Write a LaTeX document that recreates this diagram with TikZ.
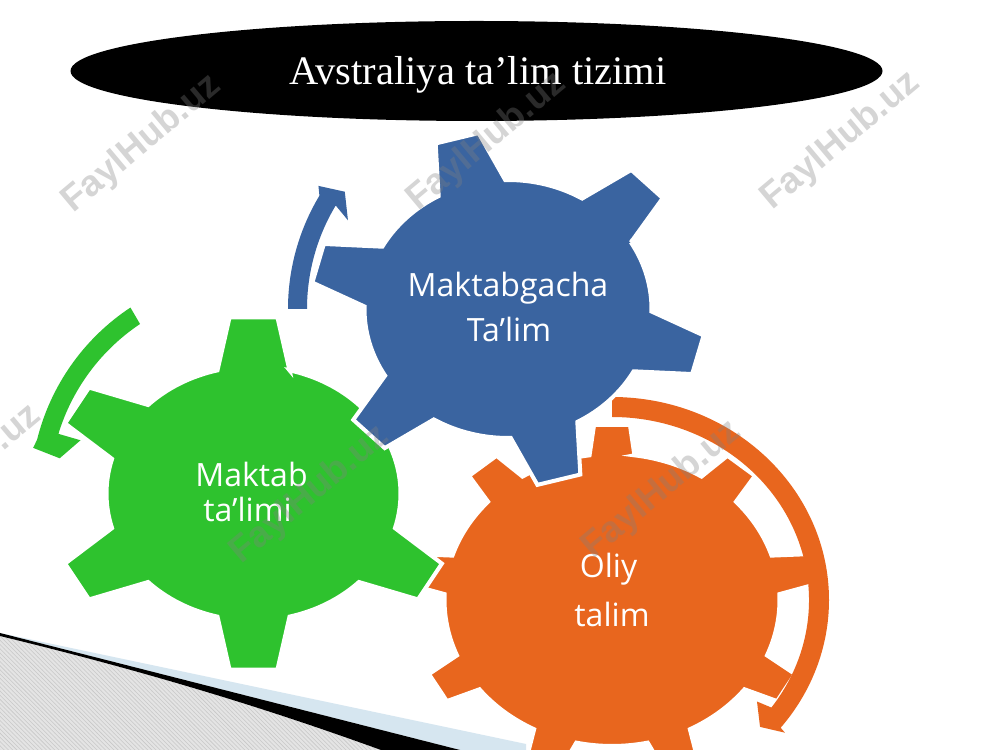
\documentclass[tikz,border=0pt]{standalone}
\usepackage{fontspec}
\setmainfont{Liberation Serif}
\newfontfamily\gearfont{Open Sans}
\newfontfamily\wmfont{Liberation Sans}
\usetikzlibrary{patterns}
\definecolor{gblue}{RGB}{58,100,160}
\definecolor{ggreen}{RGB}{46,194,46}
\definecolor{gorange}{RGB}{232,102,30}
\definecolor{lightband}{RGB}{214,230,240}
\definecolor{hatchgray}{RGB}{228,228,228}
\definecolor{hatchline}{RGB}{200,200,200}
\tikzset{
  gearstyle/.style={draw=white, line width=0.1cm, line join=miter},
  gtext/.style={text=white, font=\gearfont\fontsize{22.8}{27}\selectfont, anchor=base, inner sep=0pt},
  titletext/.style={text=white, font=\fontsize{28.8}{34}\selectfont, anchor=base, inner sep=0pt},
  wm/.style={text=gray, text opacity=0.33, font=\wmfont\bfseries\fontsize{26}{30}\selectfont, inner sep=0pt, rotate=40}
}
% #1 colour, #2 cx, #3 cy, #4 rx, #5 ry, #6 outer factor, #7 top half-width, #8 base half-width,
% #9 list of tooth/next-tooth angle pairs
\newcommand{\drawgear}[9]{%
  \pgfmathsetmacro{\gb}{asin(#8)}%
  \pgfmathsetmacro{\go}{atan(#7/#6)}%
  \pgfmathsetmacro{\gR}{sqrt((#6)*(#6)+(#7)*(#7))}%
  \begin{scope}[shift={(#2,#3)}, xscale=#4, yscale=#5]
    \filldraw[gearstyle, fill=#1]
      \foreach \a/\n [count=\c] in {#9} {
        \ifnum\c=1 ({\a-\gb}:1) \fi
        -- ({\a-\go}:\gR) -- ({\a+\go}:\gR)
        -- ({\a+\gb}:1)
        arc[start angle={\a+\gb}, end angle={\n-\gb}, radius=1]
      } -- cycle;
  \end{scope}}
\begin{document}
\begin{tikzpicture}[x=0.025cm, y=0.025cm]
\useasboundingbox (0,0) rectangle (1000,750);
\clip (0,0) rectangle (1000,750);
\fill[white] (0,0) rectangle (1000,750);

% bottom-left decoration
\fill[lightband] (0,117) -- (526,6) -- (526,0) -- (460,0) -- cycle;
\fill[hatchgray] (0,114) .. controls (140,80) and (260,44) .. (381,0) -- (0,0) -- cycle;
\fill[pattern=north west lines, pattern color=hatchline] (0,114) .. controls (140,80) and (260,44) .. (381,0) -- (0,0) -- cycle;
\fill[black] (0,117) -- (460,0) -- (381,0) .. controls (260,44) and (140,80) .. (0,114) -- cycle;

% title
\fill[black] (476.5,679) ellipse[x radius=406, y radius=50];
\node[titletext] (title) at (478,665) {Avstraliya ta’lim tizimi};

% orange gear
\drawgear{gorange}{612}{150}{167.5}{146}{1.2}{0.107}{0.134}%
  {90/130,130/170,170/210,210/250,250/290,290/330,330/370,370/410,410/450}
% orange arrow
\begin{scope}[shift={(612,150)}]
\fill[gorange] (90:217 and 203) arc[start angle=90, end angle=-39, x radius=217, y radius=203]
  -- (-37.5:218) -- (-40.6:195) -- (-35:177) -- (-36:197 and 183)
  arc[start angle=-36, end angle=90, x radius=197, y radius=183] -- cycle;
\end{scope}

% green gear (its upper-right tooth lies hidden under the blue gear)
\drawgear{ggreen}{253.5}{256.5}{147}{127}{1.386}{0.163}{0.245}%
  {90/150,150/210,210/270,270/330,330/450}
% green arrow
\begin{scope}[shift={(253.5,256.5)}]
\fill[ggreen] (123.5:223) arc[start angle=123.5, end angle=166, radius=223]
  -- (168.3:225) -- (169.7:197) -- (162.9:181) -- (163:204)
  arc[start angle=163, end angle=123.8, radius=204] -- cycle;
\end{scope}

% blue gear
\drawgear{gblue}{508}{441}{143.5}{129}{1.37}{0.155}{0.24}%
  {45/105,105/165,165/225,225/285,285/345,345/405}
% blue arrow
\begin{scope}[shift={(508,441)}]
\fill[gblue] (180:220) arc[start angle=180, end angle=149, radius=220]
  -- (147:226) -- (144.3:201) -- (151:183) -- (149:201)
  arc[start angle=149, end angle=180, radius=201] -- cycle;
\end{scope}

% gear labels
\node[gtext] (b1) at (508,453) {Maktabgacha};
\node[gtext] (b2) at (509,408) {Ta’lim};
\node[gtext] (g1) at (251.5,263) {Maktab};
\node[gtext] (g2) at (247.5,228) {ta’limi};
\node[gtext] (o1) at (608.5,172) {Oliy};
\node[gtext] (o2) at (612,123) {talim};

% watermarks
\node[wm] (wm1) at (142,606) {FaylHub.uz};
\node[wm] (wm2) at (487,608) {FaylHub.uz};
\node[wm] (wm3) at (841,609) {FaylHub.uz};
\node[wm] (wm4) at (-38,276) {FaylHub.uz};
\node[wm] (wm5) at (310,255) {FaylHub.uz};
\node[wm] (wm6) at (662,260) {FaylHub.uz};
\end{tikzpicture}
\end{document}
